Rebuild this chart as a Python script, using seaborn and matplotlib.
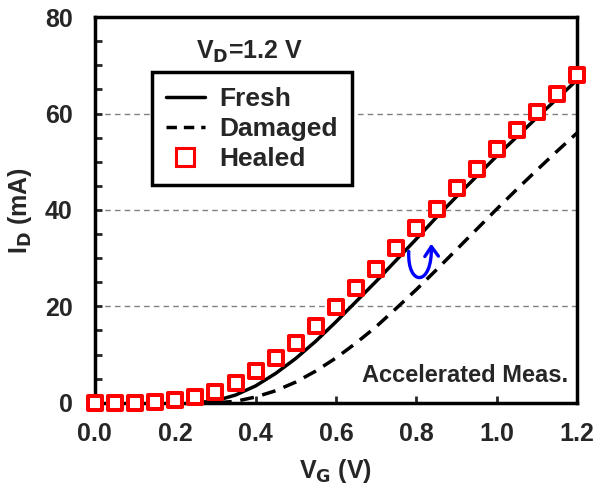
import numpy as np
import pandas as pd
import seaborn as sns
from matplotlib import pyplot as plt
from matplotlib.lines import Line2D
from matplotlib.patches import FancyArrowPatch
from matplotlib.path import Path
from matplotlib.ticker import MultipleLocator

# gate voltage grid (V) and drain currents (mA)
vg_curve = [0.25, 0.30, 0.35, 0.40, 0.45, 0.50, 0.55, 0.60, 0.65, 0.70, 0.75,
            0.80, 0.85, 0.90, 0.95, 1.00, 1.05, 1.10, 1.15, 1.20]
id_fresh = [0.0, 0.4, 1.6, 3.5, 6.1, 9.2, 12.8, 16.8, 21.0, 25.2, 29.6,
            34.0, 38.5, 42.8, 47.0, 51.2, 55.2, 59.2, 63.1, 67.0]
id_damaged = [0.0, 0.0, 0.3, 1.2, 2.5, 4.3, 6.6, 9.3, 12.4, 15.8, 19.6,
              23.5, 27.6, 31.8, 36.0, 40.2, 44.3, 48.3, 52.2, 56.0]

vg_healed = [0.00, 0.05, 0.10, 0.15, 0.20, 0.25, 0.30, 0.35, 0.40, 0.45, 0.50, 0.55, 0.60,
             0.65, 0.70, 0.75, 0.80, 0.85, 0.90, 0.95, 1.00, 1.05, 1.10, 1.15, 1.20]
id_healed = [0.0, 0.0, 0.0, 0.1, 0.5, 1.1, 2.3, 4.1, 6.5, 9.3, 12.5, 16.0, 19.8,
             23.8, 27.8, 32.2, 36.2, 40.2, 44.5, 48.5, 52.6, 56.5, 60.3, 64.1, 67.9]

xticks = [0.0, 0.2, 0.4, 0.6, 0.8, 1.0, 1.2]

curves = pd.DataFrame({'VG': vg_curve, 'Fresh': id_fresh, 'Damaged': id_damaged})
healed = pd.DataFrame({'VG': vg_healed, 'Healed': id_healed})

sns.set_style('ticks')
plt.rcParams['font.family'] = ['Liberation Sans', 'DejaVu Sans']
plt.rcParams['font.weight'] = 'bold'
plt.rcParams['mathtext.default'] = 'bf'

fig = plt.figure(figsize=(6, 4.9), dpi=100)
ax = fig.add_axes([0.158, 0.178, 0.804, 0.787])

ax.grid(axis='y', linestyle=(0, (4, 3)), color='gray', lw=1)

sns.lineplot(data=curves, x='VG', y='Fresh', color='black', lw=2.5, ax=ax)
sns.lineplot(data=curves, x='VG', y='Damaged', color='black', lw=2.5, ax=ax)
ax.lines[-1].set_dashes((4, 2.5))
sns.scatterplot(data=healed, x='VG', y='Healed', marker='s', s=100, facecolor='white',
                edgecolor='red', linewidth=2.9, clip_on=False, zorder=5, ax=ax)

ax.set_xticks(xticks)
ax.set_xticklabels([f'{t:.1f}' for t in xticks], fontweight='bold')
ax.set_xlim(0, 1.2)
ax.set_ylim(0, 80)
ax.yaxis.set_major_locator(MultipleLocator(20))
ax.yaxis.set_minor_locator(MultipleLocator(5))
ax.tick_params(which='both', direction='in', width=2, length=5, labelsize=18)
ax.tick_params(axis='y', pad=16)
ax.tick_params(axis='x', pad=14)
for lab in ax.get_xticklabels() + ax.get_yticklabels():
    lab.set_fontweight('bold')
for s in ax.spines.values():
    s.set_linewidth(2.5)
    s.set_color('black')

ax.set_xlabel('V$_G$ (V)', fontsize=18, fontweight='bold', labelpad=8)
ax.set_ylabel('I$_D$ (mA)', fontsize=18, fontweight='bold', labelpad=8)

# blue U-shaped arrow: fresh down to damaged and back up
u_path = Path([(0.781, 31.4), (0.777, 24.0), (0.840, 24.0), (0.837, 33.0)],
              [Path.MOVETO, Path.CURVE4, Path.CURVE4, Path.CURVE4])
ax.add_patch(FancyArrowPatch(path=u_path, arrowstyle='->,head_length=0.5,head_width=0.35',
                             color='blue', lw=2.4, mutation_scale=14, zorder=6))

ax.text(0.32, 0.91, 'V$_D$=1.2 V', transform=ax.transAxes, ha='center',
        va='center', fontsize=18, fontweight='bold')
ax.text(0.981, 0.072, 'Accelerated Meas.', transform=ax.transAxes, ha='right',
        va='center', fontsize=17, fontweight='bold')

handles = [Line2D([], [], color='black', lw=2.5),
           Line2D([], [], color='black', lw=2.5, dashes=(3, 2)),
           Line2D([], [], color='red', marker='s', ls='none', markersize=13,
                  markerfacecolor='white', markeredgewidth=2.2)]
leg = ax.legend(handles, ['Fresh', 'Damaged', 'Healed'], loc='upper left',
                bbox_to_anchor=(0.118, 0.857), borderaxespad=0, fancybox=False,
                framealpha=1, edgecolor='black', prop={'size': 19, 'weight': 'bold'},
                handlelength=1.45, borderpad=0.55, labelspacing=0.23, handletextpad=0.55)
leg.get_frame().set_linewidth(2.5)

fig.savefig('out.png', dpi=100)
